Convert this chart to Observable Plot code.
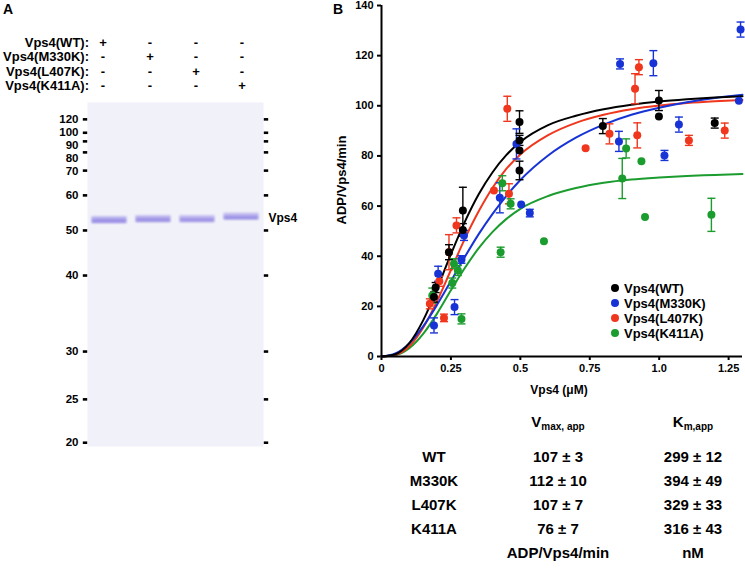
<!DOCTYPE html>
<html><head><meta charset="utf-8">
<script src="https://cdn.jsdelivr.net/npm/d3@7"></script>
<script src="https://cdn.jsdelivr.net/npm/@observablehq/plot@0.6"></script>
<style>
html,body{margin:0;padding:0;background:#fff;}
#wrap{position:relative;width:745px;height:573px;overflow:hidden;font-family:"Liberation Sans",Arial,Helvetica,sans-serif;font-weight:bold;color:#000;background:#fff;}
.abs{position:absolute;white-space:nowrap;line-height:1;}
.sub{font-size:10px;position:relative;top:3px;}
#plotB [aria-label^="x-axis"] line, #plotB [aria-label^="x-axis"] path,
#plotB [aria-label^="y-axis"] line, #plotB [aria-label^="y-axis"] path {stroke-width:2px;}
</style></head>
<body><div id="wrap"></div>
<script>
// ---------- Panel A: gel ----------
const lanes = ["WT", "M330K", "L407K", "K411A"];
const laneLabels = ["Vps4(WT):", "Vps4(M330K):", "Vps4(L407K):", "Vps4(K411A):"];
const markerKDa = [120, 100, 90, 80, 70, 60, 50, 40, 30, 25, 20];
const markerRf = [0.049, 0.088, 0.113, 0.145, 0.198, 0.270, 0.372, 0.503, 0.724, 0.863, 0.989];
const bandRf = [0.341, 0.338, 0.338, 0.331];
const bandIntensity = [1.0, 0.95, 0.9, 0.9];
const bandLabel = "Vps4";

// ---------- Panel B: ATPase data ----------
const seriesNames = ["Vps4(WT)", "Vps4(M330K)", "Vps4(L407K)", "Vps4(K411A)"];
const seriesColors = ["#000000", "#1733d6", "#f0361d", "#1b9c2e"];
// [Vps4 µM, ADP/Vps4/min, error]
const wtPoints = [
  [0.189, 23.7, 2], [0.195, 27.5, 2], [0.243, 41.6, 3], [0.293, 58.2, 9.3], [0.293, 50.5, 2.5],
  [0.497, 93.5, 4.5], [0.497, 86.2, 2], [0.497, 82.2, 0], [0.497, 74.2, 3.7],
  [0.797, 91.9, 3], [0.999, 102.1, 4], [0.999, 95.7, 0], [1.2, 93.1, 2]
];
const m330kPoints = [
  [0.189, 12.4, 3], [0.204, 33, 3], [0.263, 19.7, 3], [0.288, 38.7, 1.5], [0.297, 48.3, 2],
  [0.426, 63.3, 6], [0.486, 84.8, 6], [0.503, 60.6, 0], [0.534, 57.2, 1.5],
  [0.855, 85.8, 4], [0.859, 116.7, 2], [0.979, 117, 5], [1.019, 80.2, 2], [1.071, 92.5, 3],
  [1.287, 102, 0], [1.293, 130.4, 3]
];
const l407kPoints = [
  [0.174, 21, 2], [0.208, 30, 2], [0.225, 15.4, 1.5], [0.243, 41.6, 7], [0.27, 52.3, 3],
  [0.405, 66.2, 0], [0.453, 98.8, 5], [0.459, 64.9, 4],
  [0.735, 83.1, 0], [0.821, 88.8, 4], [0.913, 106.8, 6], [0.921, 88.2, 5], [0.927, 115.4, 3],
  [1.107, 86.2, 2], [1.236, 90.1, 3]
];
const k411aPoints = [
  [0.183, 24.3, 3], [0.255, 29.3, 2], [0.261, 37, 2], [0.275, 34.3, 2], [0.288, 15, 2],
  [0.429, 41.6, 2], [0.435, 69.1, 3], [0.465, 60.9, 2], [0.585, 46, 0],
  [0.867, 71, 8], [0.881, 83, 3.8], [0.936, 77.9, 0], [0.949, 55.6, 0], [1.188, 56.5, 6.6]
];
// fitted curves
const curveX = [0, 0.05, 0.1, 0.15, 0.2, 0.25, 0.3, 0.35, 0.4, 0.45, 0.5, 0.6, 0.7, 0.8, 0.9, 1.0, 1.1, 1.2, 1.3];
const wtCurve =    [0, 0.9, 5.3, 14.4, 27.0, 40.8, 53.7, 64.7, 73.5, 80.4, 85.6, 92.3, 96.0, 98.6, 100.4, 101.7, 102.6, 103.3, 103.8];
const m330kCurve = [0, 1.2, 5.2, 12.0, 20.6, 30.1, 39.7, 48.8, 56.9, 64.1, 70.4, 80.2, 87.3, 92.5, 96.4, 99.2, 101.4, 103.1, 104.4];
const l407kCurve = [0, 0.7, 4.1, 11.5, 22.1, 34.5, 46.9, 57.9, 67.3, 74.9, 80.6, 88.3, 93.2, 96.4, 98.6, 100.1, 101.1, 101.8, 102.3];
const k411aCurve = [0, 0.5, 3.3, 9.0, 17.1, 26.4, 35.3, 43.2, 49.7, 54.9, 58.9, 64.0, 67.2, 69.3, 70.6, 71.4, 72.0, 72.4, 72.8];

const xTicks = [0, 0.25, 0.5, 0.75, 1.0, 1.25];
const xTickLabels = ["0", "0.25", "0.5", "0.75", "1.0", "1.25"];
const yTicks = [0, 20, 40, 60, 80, 100, 120, 140];
const xTitle = "Vps4 (μM)";
const yTitle = "ADP/Vps4/min";

// ---------- Table ----------
const tableRows = ["WT", "M330K", "L407K", "K411A"];
const vmaxValues = ["107 ± 3", "112 ± 10", "107 ± 7", "76 ± 7"];
const kmValues = ["299 ± 12", "394 ± 49", "329 ± 33", "316 ± 43"];
const vmaxUnit = "ADP/Vps4/min";
const kmUnit = "nM";

// =========================================================
const wrap = document.getElementById("wrap");
const FONT = "'Liberation Sans', Arial, Helvetica, sans-serif";
function place(node, left, top, id) {
  const d = document.createElement("div");
  d.style.position = "absolute"; d.style.left = left + "px"; d.style.top = top + "px";
  if (id) d.id = id;
  d.appendChild(node); wrap.appendChild(d); return d;
}
function label(html, x, y, size = 13, anchor = "middle", rotate = 0) {
  const d = document.createElement("div");
  d.className = "abs";
  d.innerHTML = html;
  d.style.left = x + "px"; d.style.top = y + "px"; d.style.fontSize = size + "px";
  const tx = anchor === "start" ? "0" : anchor === "end" ? "-100%" : "-50%";
  d.style.transform = `translate(${tx},-50%)` + (rotate ? ` rotate(${rotate}deg)` : "");
  wrap.appendChild(d); return d;
}
const dashSymbol = {draw(ctx, size) { const r = Math.sqrt(size / Math.PI); ctx.moveTo(-r, 0); ctx.lineTo(r, 0); }};

// ----- Panel A -----
label("A", 3, 9, 14, "start");
const laneX = [103, 150, 196, 242];
const rowY = [42, 56, 71, 85];
laneLabels.forEach((lab, r) => {
  label(lab, 89, rowY[r], 13, "end");
  lanes.forEach((ln, i) => label(i === r ? "+" : "-", laneX[i], rowY[r], 13, "middle"));
});

const gelH = 365, gelTop = 7, gelBottom = 14;
const innerH = gelH - gelTop - gelBottom;
// spread marker labels so that they do not collide (as in the reference)
let lastY = -Infinity;
const markers = markerKDa.map((k, i) => {
  const py = markerRf[i] * innerH;
  const ly = Math.max(py, lastY + 13);
  lastY = ly;
  return {k, rf: markerRf[i], dy: ly - py};
});
const bands = lanes.map((l, i) => ({i, rf: bandRf[i], o: bandIntensity[i]}));
const gel = Plot.plot({
  width: 330, height: gelH, marginLeft: 87, marginRight: 67, marginTop: gelTop, marginBottom: gelBottom,
  x: {domain: [0, 4], axis: null},
  y: {domain: [0, 1], reverse: true, axis: null},
  style: {fontFamily: FONT, fontSize: "11.5px", fontWeight: "bold", background: "transparent", overflow: "visible"},
  marks: [
    Plot.frame({fill: "#f1f2f9", stroke: "none"}),
    Plot.ruleY(bands, {y: "rf", x1: d => d.i + 0.1, x2: d => d.i + 0.9, stroke: "#b9b2ee", strokeWidth: 7, strokeOpacity: d => d.o}),
    Plot.ruleY(bands, {y: d => d.rf + 0.003, x1: d => d.i + 0.12, x2: d => d.i + 0.88, stroke: "#978ce3", strokeWidth: 3, strokeOpacity: d => d.o}),
    Plot.dot(markers, {x: () => 0, y: "rf", symbol: dashSymbol, r: 2.2, dx: -2.5, stroke: "#000", strokeWidth: 2.6, fill: "none"}),
    Plot.dot(markers, {x: () => 4, y: "rf", symbol: dashSymbol, r: 2.2, dx: 2.5, stroke: "#000", strokeWidth: 2.6, fill: "none"}),
    ...markers.map(m => Plot.text([m], {x: () => 0, y: "rf", text: d => String(d.k), dx: -9, dy: m.dy, textAnchor: "end", fill: "#000"})),
    Plot.text([bandLabel], {x: () => 4, y: () => d3.mean(bandRf), text: d => d, dx: 5, textAnchor: "start", fill: "#000", fontSize: 12})
  ]
});
gel.querySelectorAll('g[aria-label="rule"]').forEach(g => g.style.filter = "blur(1.1px)");
place(gel, 0, 95, "gelA");

// ----- Panel B -----
label("B", 333, 9, 14, "start");
const series = [
  {name: seriesNames[3], color: seriesColors[3], pts: k411aPoints, curve: k411aCurve},
  {name: seriesNames[2], color: seriesColors[2], pts: l407kPoints, curve: l407kCurve},
  {name: seriesNames[1], color: seriesColors[1], pts: m330kPoints, curve: m330kCurve},
  {name: seriesNames[0], color: seriesColors[0], pts: wtPoints, curve: wtCurve}
];
const pointRows = series.flatMap(s => s.pts.map(([x, y, e]) => ({x, y, e, name: s.name, color: s.color})));
const errRows = pointRows.filter(d => d.e > 0);
const capRows = errRows.flatMap(d => [{x: d.x, y: d.y - d.e, color: d.color}, {x: d.x, y: d.y + d.e, color: d.color}]);
const curveRows = series.flatMap(s => curveX.map((x, i) => ({x, y: s.curve[i], name: s.name, color: s.color})));

const plotB = Plot.plot({
  width: 415, height: 400, marginLeft: 51, marginRight: 3, marginTop: 5, marginBottom: 44,
  color: {type: "identity"},
  x: {domain: [0, 1.3], ticks: xTicks, tickFormat: d => xTickLabels[xTicks.indexOf(d)], tickSize: 4, tickPadding: 4, label: null},
  y: {domain: [0, 140], ticks: yTicks, tickSize: 4, tickPadding: 4, label: null},
  style: {fontFamily: FONT, fontSize: "11px", fontWeight: "bold", background: "transparent", overflow: "visible"},
  marks: [
    Plot.line(curveRows, {x: "x", y: "y", z: "name", stroke: "color", strokeWidth: 2, curve: "monotone-x"}),
    Plot.ruleX(errRows, {x: "x", y1: d => d.y - d.e, y2: d => d.y + d.e, stroke: "color", strokeWidth: 1.4}),
    Plot.dot(capRows, {x: "x", y: "y", symbol: dashSymbol, r: 4, stroke: "color", strokeWidth: 1.4, fill: "none"}),
    Plot.dot(pointRows, {x: "x", y: "y", r: 4, fill: "color", stroke: "none"}),
    Plot.ruleY([0], {stroke: "#000", strokeWidth: 2}),
    Plot.ruleX([0], {stroke: "#000", strokeWidth: 2})
  ]
});
place(plotB, 330, 0, "plotB");

label(yTitle, 341, 180, 13, "middle", -90);
label(xTitle, 559, 390, 12, "middle");

// legend
const legendY = [288, 303, 318, 333];
seriesNames.forEach((n, i) => {
  const dot = document.createElement("div");
  dot.style.cssText = `position:absolute;left:${611}px;top:${legendY[i] - 4}px;width:8px;height:8px;border-radius:50%;background:${seriesColors[i]};`;
  wrap.appendChild(dot);
  label(n, 624, legendY[i], 13, "start");
});

// table
const colX = [434, 558, 693];
label("V<span class='sub'>max, app</span>", colX[1], 421, 15);
label("K<span class='sub'>m,app</span>", colX[2], 421, 15);
const tableY = [456, 480, 504, 528];
tableRows.forEach((r, i) => {
  label(r, colX[0], tableY[i], 15);
  label(vmaxValues[i], colX[1], tableY[i], 15);
  label(kmValues[i], colX[2], tableY[i], 15);
});
label(vmaxUnit, colX[1], 552, 15);
label(kmUnit, colX[2], 552, 15);
</script></body></html>
